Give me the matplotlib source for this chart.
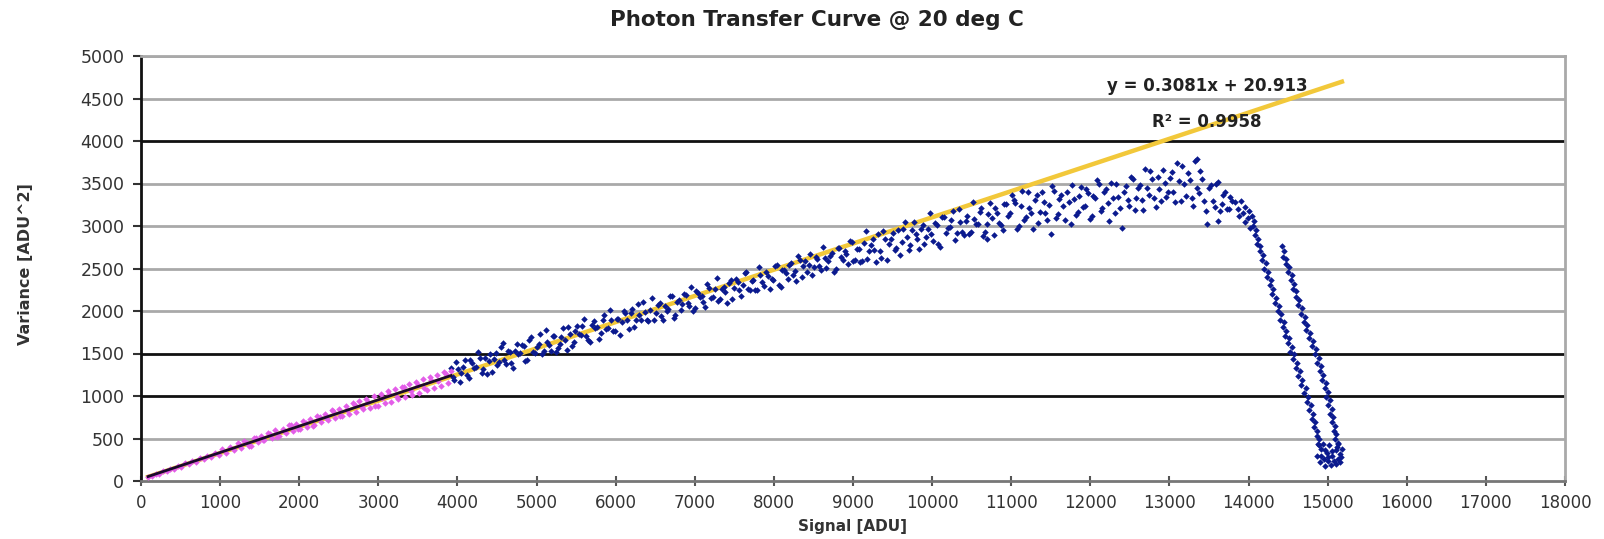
import numpy as np
import matplotlib
matplotlib.use("Agg")
import matplotlib.pyplot as plt

# Low-signal points (linear region)
pink_x = [90, 140, 190, 230, 280, 330, 370, 420, 470, 510, 560, 610, 650, 700, 750, 800,
          840, 890, 940, 990, 1030, 1080, 1130, 1170, 1220, 1260, 1300, 1340, 1390, 1430,
          1480, 1520, 1560, 1610, 1650, 1700, 1740, 1790, 1830, 1870, 1920, 1960, 2010,
          2050, 2100, 2140, 2190, 2230, 2280, 2320, 2360, 2410, 2450, 2500, 2540, 2590,
          2630, 2680, 2720, 2760, 2810, 2850, 2900, 2940, 2990, 3030, 3080, 3120, 3160,
          3210, 3250, 3300, 3340, 3390, 3430, 3470, 3520, 3560, 3610, 3650, 3700, 3740,
          3790, 3830, 3880, 3920,
          1250, 1360, 1450, 1540, 1630, 1720, 1810, 1900, 1990, 2080, 2170, 2260, 2340,
          2430, 2520, 2610, 2700, 2790, 2870, 2960, 3050, 3140, 3230, 3320, 3410, 3500,
          3580, 3670, 3760, 3850]
pink_y = [52, 60, 86, 85, 115, 116, 145, 142, 176, 170, 206, 200, 236, 226, 268, 255,
          300, 282, 330, 305, 372, 330, 405, 360, 445, 392, 470, 452, 415, 510,
          460, 535, 478, 560, 510, 598, 530, 610, 565, 655, 590, 672, 612,
          708, 640, 735, 662, 768, 690, 790, 712, 830, 742, 850, 760, 885,
          790, 918, 815, 945, 842, 968, 860, 1000, 885, 1025, 912, 1060, 935,
          1085, 960, 1110, 985, 1140, 1010, 1170, 1040, 1195, 1065, 1225, 1095, 1250,
          1120, 1280, 1150, 1300,
          428, 412, 505, 487, 550, 513, 586, 654, 612, 680, 648, 751, 740,
          823, 766, 839, 897, 865, 935, 888, 981, 1028, 991, 1104, 1062, 1125,
          1090, 1188, 1176, 1259]

# Rising part of the curve
rise_x = [3920, 3960, 4010, 4050, 4100, 4140, 4190, 4230, 4280, 4320, 4370, 4410, 4460,
          4500, 4550, 4590, 4640, 4680, 4730, 4770, 4820, 4860, 4910, 4950, 5000, 5040,
          5090, 5130, 5180, 5220, 5270, 5310, 5360, 5400, 5450, 5490, 5540, 5580, 5630,
          5670, 5720, 5760, 5810, 5850, 5900, 5940, 5990, 6030, 6080, 6120, 6170, 6210,
          6260, 6300, 6350, 6390, 6440, 6480, 6530, 6570, 6620, 6660, 6710, 6750, 6800,
          6840, 6890, 6930, 6980, 7020, 7070, 7110, 7160, 7200, 7250, 7290, 7340, 7380,
          7430, 7470, 7520, 7560, 7610, 7650, 7700, 7740, 7790, 7830, 7880, 7920, 7970,
          8010, 8060, 8100, 8150, 8190, 8240, 8280, 8330, 8370, 8420, 8460, 8510, 8550,
          8600, 8640, 8690, 8730, 8780, 8820, 8870, 8910, 8960, 9000, 9050, 9090, 9140,
          9180, 9230, 9270, 9320, 9360, 9410, 9450, 9500, 9540, 9590, 9630, 9680, 9720,
          9770, 9810, 9860, 9900, 9950, 9990, 10040, 10080, 10130, 10170, 10220, 10260,
          10310, 10350, 10400, 10440, 10490, 10530, 10580, 10620, 10670, 10710, 10760,
          10800, 10850, 10890, 10940, 10980, 10700]
rise_y = [1326, 1188, 1312, 1274, 1428, 1210, 1385, 1346, 1451, 1323, 1257, 1499, 1434,
          1365, 1580, 1421, 1526, 1388, 1532, 1494, 1599, 1410, 1655, 1517, 1581, 1733,
          1527, 1639, 1524, 1706, 1570, 1691, 1655, 1807, 1591, 1762, 1726, 1828, 1702,
          1633, 1877, 1808, 1743, 1954, 1798, 1899, 1764, 1905, 1869, 1971, 1785, 2026,
          1890, 1952, 2106, 1897, 2011, 1892, 2075, 1936, 2059, 2020, 2173, 1954, 2128,
          2088, 2192, 2063, 1996, 2237, 2170, 2101, 2314, 2155, 2259, 2119, 2263, 2224,
          2327, 2138, 2382, 2242, 2306, 2457, 2250, 2361, 2245, 2426, 2290, 2411, 2375,
          2526, 2310, 2481, 2445, 2546, 2420, 2351, 2595, 2526, 2459, 2671, 2514, 2615,
          2479, 2620, 2584, 2685, 2499, 2740, 2604, 2665, 2819, 2590, 2732, 2572, 2805,
          2615, 2777, 2717, 2910, 2620, 2842, 2792, 2915, 2745, 2657, 2967, 2870, 2780,
          3052, 2842, 2965, 2785, 2967, 2907, 3040, 2790, 3102, 2922, 2994, 3182,
          2912, 3050, 2890, 3118, 2928, 3086, 3026, 3214, 2924, 3142, 3092,
          3210, 3040, 2948, 3258, 3156, 2850]
rise2_x = [3945, 3985, 4035, 4075, 4125, 4165, 4215, 4255, 4305, 4345, 4395, 4435, 4485,
           4525, 4575, 4615, 4665, 4705, 4755, 4795, 4845, 4885, 4935, 4975, 5025, 5065,
           5115, 5155, 5205, 5245, 5295, 5335, 5385, 5425, 5475, 5515, 5565, 5605, 5655,
           5695, 5745, 5785, 5835, 5875, 5925, 5965, 6015, 6055, 6105, 6145, 6195, 6235,
           6285, 6325, 6375, 6415, 6465, 6505, 6555, 6595, 6645, 6685, 6735, 6775, 6825,
           6865, 6915, 6955, 7005, 7045, 7095, 7135, 7185, 7225, 7275, 7315, 7365, 7405,
           7455, 7495, 7545, 7585, 7635, 7675, 7725, 7765, 7815, 7855, 7905, 7945, 7995,
           8035, 8085, 8125, 8175, 8215, 8265, 8305, 8355, 8395, 8445, 8485, 8535, 8575,
           8625, 8665, 8715, 8755, 8805, 8845, 8895, 8935, 8985, 9025, 9075, 9115, 9165,
           9205, 9255, 9295, 9345, 9385, 9435, 9475, 9525, 9565, 9615, 9655, 9705, 9745,
           9795, 9835, 9885, 9925, 9975, 10015, 10065, 10105, 10155, 10195, 10245, 10285,
           10335, 10375, 10425, 10465, 10515, 10555, 10605, 10645, 10695, 10735, 10785,
           10825, 10875, 10915, 10965, 11005]
rise2_y = [1223, 1405, 1160, 1341, 1245, 1427, 1332, 1513, 1268, 1450, 1414, 1286, 1511,
           1402, 1627, 1378, 1523, 1335, 1609, 1511, 1586, 1427, 1692, 1504, 1608, 1500,
           1774, 1596, 1711, 1513, 1617, 1798, 1542, 1734, 1638, 1819, 1723, 1905, 1659,
           1840, 1804, 1675, 1900, 1791, 2015, 1766, 1911, 1722, 1996, 1898, 1972, 1813,
           2077, 1889, 1993, 1884, 2158, 1979, 2092, 1893, 1996, 2177, 1920, 2111, 2015,
           2195, 2099, 2280, 2033, 2214, 2177, 2048, 2271, 2162, 2386, 2136, 2280, 2091,
           2364, 2265, 2339, 2179, 2443, 2254, 2357, 2248, 2522, 2343, 2457, 2258, 2362,
           2543, 2287, 2478, 2382, 2563, 2467, 2648, 2402, 2583, 2546, 2418, 2641, 2532,
           2756, 2507, 2651, 2462, 2736, 2637, 2711, 2552, 2816, 2605, 2734, 2588, 2939,
           2702, 2844, 2581, 2711, 2942, 2603, 2847, 2717, 2948, 2817, 3048, 2723, 2954,
           2901, 2729, 3015, 2869, 3154, 2826, 3008, 2758, 3108, 2975, 3069, 2839,
           3199, 2927, 3063, 2903, 3277, 3019, 3169, 2883, 3019, 3265, 2897,
           3157, 3013, 3259, 3115, 3361]

# Saturation plateau
plat_x = [11030, 11070, 11120, 11160, 11210, 11250, 11300, 11340, 11390, 11430, 11480,
          11520, 11570, 11610, 11660, 11700, 11750, 11790, 11840, 11880, 11930, 11970,
          12020, 12060, 12110, 12150, 12200, 12240, 12290, 12330, 12380, 12420, 12470,
          12510, 12560, 12600, 12650, 12690, 12740, 12780, 12830, 12870, 12920, 12960,
          13010, 13050, 13100, 13140, 13190, 13230, 13280, 13320, 13370, 13410, 13460,
          13500, 13550, 13590, 13640, 13680, 13730, 13770, 13480, 13620, 12400, 11500,
          13350,
          11050, 11095, 11140, 11185, 11230, 11275, 11320, 11365, 11410, 11455, 11545,
          11590, 11635, 11680, 11725, 11770, 11815, 11860, 11905, 11950, 11995, 12040,
          12085, 12130, 12175, 12220, 12265, 12310, 12355, 12445, 12490, 12535, 12580,
          12625, 12670, 12715, 12760, 12805, 12850, 12895, 12940, 12985, 13030, 13075,
          13120, 13165, 13210, 13255, 13300, 13345, 13390, 13435, 13525, 13570, 13615,
          13660, 13705, 13750, 13795]
plat_y = [3310, 2960, 3230, 3065, 3400, 3150, 3310, 3030, 3400, 3150, 3250,
          3470, 3090, 3320, 3230, 3400, 3020, 3320, 3170, 3460, 3230, 3390,
          3120, 3330, 3500, 3210, 3430, 3060, 3330, 3490, 3210, 3400, 3310,
          3580, 3190, 3450, 3310, 3670, 3370, 3550, 3220, 3440, 3660, 3340,
          3560, 3400, 3740, 3290, 3490, 3620, 3330, 3770, 3390, 3550, 3180,
          3450, 3290, 3500, 3180, 3360, 3200, 3340, 3020, 3060, 2980, 2900,
          3790,
          3275, 3000, 3415, 3110, 3215, 2970, 3365, 3170, 3285, 3070, 3415,
          3140, 3365, 3075, 3283, 3488, 3133, 3358, 3223, 3438, 3083, 3348,
          3543, 3178, 3403, 3268, 3503, 3158, 3343, 3473, 3238, 3557, 3326,
          3485, 3184, 3443, 3652, 3331, 3580, 3299, 3508, 3397, 3636, 3281,
          3526, 3701, 3356, 3541, 3236, 3451, 3650, 3300, 3478, 3220, 3512,
          3254, 3396, 3198, 3290]

# Roll-off: left branch, right branch and the floor
left_x = [13830, 13870, 13900, 13930, 13960, 13990, 14010, 13950, 13880, 14020,
          14040, 14070, 14060, 14090, 14085, 14120, 14110, 14150, 14140, 14180, 14170,
          14215, 14200, 14245, 14235, 14280, 14265, 14305, 14300, 14345, 14330, 14380,
          14370, 14410, 14400, 14450, 14435, 14475, 14465, 14510, 14495, 14545, 14530,
          14575, 14565, 14610, 14595, 14645, 14630, 14680, 14665, 14720, 14705, 14755,
          14740, 14785, 14770, 14815, 14800, 14845, 14830, 14870, 14860, 14890, 14875]
left_y = [3280, 3200, 3290, 3150, 3220, 3100, 3180, 3050, 3120, 2980,
          3120, 3060, 3000, 2950, 2890, 2850, 2790, 2760, 2700, 2660, 2600,
          2560, 2500, 2460, 2400, 2370, 2310, 2260, 2200, 2150, 2090, 2060,
          2000, 1960, 1900, 1870, 1810, 1770, 1710, 1680, 1620, 1580, 1520,
          1490, 1430, 1390, 1330, 1290, 1230, 1190, 1130, 1090, 1030, 990,
          930, 890, 830, 790, 730, 690, 630, 590, 530, 490, 440]
right_x = [14420, 14450, 14440, 14475, 14470, 14510, 14500, 14545, 14535, 14575, 14565,
           14605, 14595, 14640, 14625, 14675, 14660, 14710, 14695, 14745, 14730, 14780,
           14765, 14815, 14800, 14855, 14840, 14885, 14870, 14915, 14900, 14945, 14930,
           14975, 14960, 15000, 14985, 15030, 15010, 15050, 15035, 15070, 15055, 15090,
           15075, 15110, 15095, 15135, 15120]
right_y = [2760, 2700, 2640, 2610, 2550, 2520, 2460, 2420, 2360, 2320, 2260,
           2230, 2170, 2130, 2070, 2030, 1970, 1930, 1870, 1840, 1780, 1740,
           1680, 1650, 1590, 1550, 1490, 1450, 1390, 1350, 1290, 1250, 1190,
           1150, 1090, 1050, 990, 950, 890, 850, 790, 750, 690, 650,
           590, 550, 490, 450, 400]
floor_x = [14870, 14900, 14920, 14950, 14970, 14990, 15010, 15040, 15060, 15080, 15110,
           15130, 15150, 15170, 15180, 14940, 14890, 15020, 15050, 14910, 15100, 15160,
           15000, 14960, 15130]
floor_y = [300, 220, 380, 260, 180, 330, 240, 190, 300, 230, 360,
           260, 320, 280, 380, 440, 420, 420, 350, 300, 200, 220,
           280, 360, 440]

slope, intercept, r2 = 0.3081, 20.913, 0.9958

blue_x = rise_x + rise2_x + plat_x + left_x + right_x + floor_x
blue_y = rise_y + rise2_y + plat_y + left_y + right_y + floor_y

fig = plt.figure(figsize=(16.04, 5.39), dpi=100)
ax = fig.add_axes([141 / 1604, 58 / 539, 1424 / 1604, 425 / 539])

ax.set_xlim(0, 18000)
ax.set_ylim(0, 5000)
ax.set_xticks(np.arange(0, 18001, 1000))
ax.set_yticks(np.arange(0, 5001, 500))

# grid: most lines grey, a few drawn black
dark = {1000, 1500, 4000}
for v in range(500, 5001, 500):
    ax.axhline(v, color="#111111" if v in dark else "#a9a9a9", lw=2.0, zorder=1)

# trendlines
tx = np.array([min(pink_x), max(blue_x)])
ax.plot(tx, slope * tx + intercept, color="#f2c83a", lw=3.2, zorder=2)
pfit = np.polyfit(pink_x, pink_y, 1)
px = np.array([min(pink_x), max(pink_x)])

ax.scatter(blue_x, blue_y, s=11, marker="D", color="#0b1a8e", linewidths=0, zorder=3)
ax.scatter(pink_x, pink_y, s=11, marker="D", color="#e35ee8", linewidths=0, zorder=3)
ax.plot(px, np.polyval(pfit, px), color="#1a0a2a", lw=2.0, zorder=4)

ax.text(13475, 4647, "y = %.4fx + %.3f" % (slope, intercept), ha="center", va="center",
        fontsize=12, fontweight="bold", color="#222222", zorder=5)
ax.text(13475, 4224, "R\u00b2 = %.4f" % r2, ha="center", va="center",
        fontsize=12, fontweight="bold", color="#222222", zorder=5)

for s in ["top", "right"]:
    ax.spines[s].set_color("#a9a9a9")
    ax.spines[s].set_linewidth(2)
ax.spines["left"].set_color("#111111")
ax.spines["left"].set_linewidth(2)
ax.spines["bottom"].set_color("#777777")
ax.spines["bottom"].set_linewidth(2)

ax.tick_params(axis="y", direction="out", length=6, width=1.5, pad=6,
               labelsize=12.5, labelcolor="#333333", color="#333333")
ax.tick_params(axis="x", direction="inout", length=7, width=1.5, pad=6,
               labelsize=12, labelcolor="#333333", color="#555555")

fig.text(817 / 1604, 1 - 20 / 539, "Photon Transfer Curve @ 20 deg C", ha="center",
         va="center", fontsize=15.5, fontweight="bold", color="#222222")
fig.text(26 / 1604, 0.51, "Variance [ADU^2]", rotation=90, ha="center", va="center",
         fontsize=11.5, fontweight="bold", color="#333333")
fig.text(852 / 1604, 20 / 539, "Signal [ADU]", ha="center", va="top",
         fontsize=11, fontweight="bold", color="#333333")

fig.savefig("out.png", dpi=100, facecolor="white")
